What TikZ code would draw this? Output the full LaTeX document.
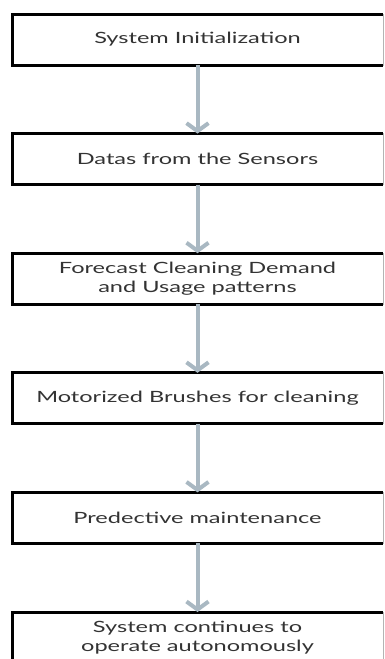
\documentclass[tikz,border=0pt]{standalone}
\usepackage{fontspec}
\setmainfont[FakeStretch=1.52]{Lato}
\usetikzlibrary{arrows.meta,positioning}
\definecolor{ink}{HTML}{333333}
\definecolor{rail}{HTML}{A9B8C2}
\definecolor{rim}{HTML}{B4B4B4}

\begin{document}
\begin{tikzpicture}[x=1pt,y=-1pt,font=\fontsize{15.5}{18.3}\selectfont,box/.style={draw=rim,line width=0.8pt,fill=white,text=ink,align=center,minimum width=371pt,minimum height=51pt,inner sep=0pt,outer sep=0pt},rimline/.style={line width=3pt,draw=black,line join=miter},arr/.style={-{Straight Barb[length=8pt,width=22pt]},line width=4pt,draw=rail}]
\useasboundingbox (0,0) rectangle (384,659);
\node[box] (init) at (197.5,39.5) {System Initialization};
\node[box,below=68.6pt of init] (sense) {Datas from the Sensors};
\node[box,below=68.6pt of sense] (fcast) {Forecast Cleaning Demand\\and Usage patterns};
\node[box,below=68.6pt of fcast] (brush) {Motorized Brushes for cleaning};
\node[box,below=68.6pt of brush] (maint) {Predective maintenance};
\node[box,below=68.6pt of maint] (auto) {System continues to\\operate autonomously};
% heavy edges on top, left and bottom
\foreach \n in {init,sense,fcast,brush,maint,auto}
  \draw[rimline] (\n.north east)--(\n.north west)--(\n.south west)--(\n.south east);
\draw[arr] (init)--(sense);
\draw[arr] (sense)--(fcast);
\draw[arr] (fcast)--(brush);
\draw[arr] (brush)--(maint);
\draw[arr] (maint)--(auto);
\end{tikzpicture}
\end{document}
